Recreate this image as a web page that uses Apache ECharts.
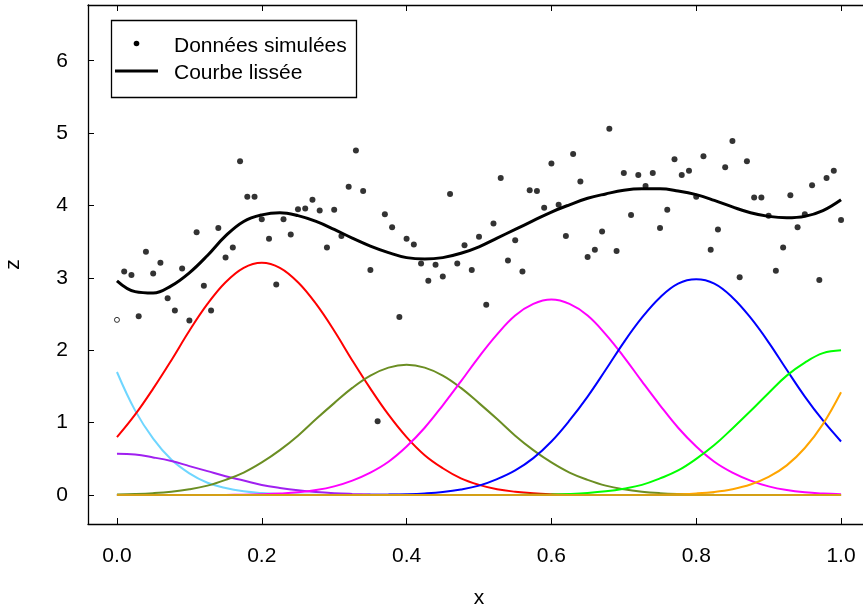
<!DOCTYPE html>
<html>
<head>
<meta charset="utf-8">
<title>Données simulées et courbe lissée</title>
<script src="https://cdn.jsdelivr.net/npm/echarts@6/dist/echarts.min.js"></script>
<style>
  html, body { margin: 0; padding: 0; background: #fff; }
  #chart { width: 863px; height: 607px; }
</style>
</head>
<body>
<div id="chart"></div>
<script>
// points simulés, x = 0, 0.01, ..., 1.00
var pointsZ = [
    2.42, 3.09, 3.04, 2.47, 3.36, 3.06, 3.21, 2.72, 2.55, 3.13,
    2.41, 3.63, 2.89, 2.55, 3.69, 3.28, 3.42, 4.61, 4.12, 4.12,
    3.81, 3.54, 2.91, 3.81, 3.60, 3.95, 3.96, 4.08, 3.93, 3.42,
    3.94, 3.58, 4.26, 4.76, 4.20, 3.11, 1.02, 3.88, 3.70, 2.46,
    3.54, 3.46, 3.20, 2.96, 3.18, 3.02, 4.16, 3.20, 3.45, 3.11,
    3.57, 2.63, 3.75, 4.38, 3.24, 3.52, 3.09, 4.21, 4.20, 3.97,
    4.58, 4.01, 3.58, 4.71, 4.33, 3.29, 3.39, 3.64, 5.06, 3.37,
    4.45, 3.87, 4.42, 4.27, 4.45, 3.69, 3.94, 4.64, 4.42, 4.48,
    4.12, 4.68, 3.39, 3.67, 4.53, 4.89, 3.01, 4.61, 4.11, 4.11,
    3.86, 3.10, 3.42, 4.14, 3.70, 3.88, 4.28, 2.97, 4.38, 4.48,
    3.80
];

// courbes lues en x = 0, 0.025, ..., 1.00 (41 valeurs)
var courbeLissee = [
    2.96, 2.81, 2.79, 2.89, 3.07, 3.31, 3.58, 3.78, 3.87, 3.90,
    3.86, 3.78, 3.67, 3.55, 3.44, 3.35, 3.28, 3.26, 3.28, 3.34,
    3.43, 3.55, 3.67, 3.79, 3.91, 4.01, 4.10, 4.16, 4.21, 4.23,
    4.23, 4.20, 4.15, 4.07, 3.98, 3.90, 3.85, 3.83, 3.85, 3.93,
    4.08
];
var baseCyan = [
    1.70, 1.17, 0.78, 0.49, 0.30, 0.17, 0.097, 0.052, 0.027, 0.013,
    0.006, 0.003, 0, 0, 0, 0, 0, 0, 0, 0,
    0, 0, 0, 0, 0, 0, 0, 0, 0, 0,
    0, 0, 0, 0, 0, 0, 0, 0, 0, 0,
    0
];
var baseViolet = [
    0.57, 0.56, 0.52, 0.47, 0.40, 0.33, 0.26, 0.20, 0.14, 0.098,
    0.065, 0.041, 0.025, 0.015, 0.008, 0.004, 0.002, 0, 0, 0,
    0, 0, 0, 0, 0, 0, 0, 0, 0, 0,
    0, 0, 0, 0, 0, 0, 0, 0, 0, 0,
    0
];
var baseRouge = [
    0.80, 1.11, 1.47, 1.86, 2.27, 2.64, 2.94, 3.14, 3.21, 3.14,
    2.94, 2.64, 2.27, 1.86, 1.47, 1.11, 0.80, 0.55, 0.37, 0.23,
    0.14, 0.08, 0.046, 0.024, 0.012, 0.006, 0.003, 0, 0, 0,
    0, 0, 0, 0, 0, 0, 0, 0, 0, 0,
    0
];
var baseOlive = [
    0.007, 0.014, 0.026, 0.046, 0.079, 0.13, 0.21, 0.31, 0.45, 0.62,
    0.82, 1.05, 1.27, 1.48, 1.65, 1.76, 1.80, 1.76, 1.65, 1.48,
    1.27, 1.05, 0.82, 0.62, 0.45, 0.31, 0.21, 0.13, 0.079, 0.046,
    0.026, 0.014, 0.007, 0.003, 0.002, 0, 0, 0, 0, 0,
    0
];
var baseMagenta = [
    0, 0, 0, 0, 0, 0, 0.002, 0.005, 0.011, 0.021,
    0.038, 0.069, 0.12, 0.20, 0.31, 0.46, 0.67, 0.93, 1.24, 1.57,
    1.91, 2.22, 2.48, 2.64, 2.70, 2.64, 2.48, 2.22, 1.91, 1.57,
    1.24, 0.93, 0.67, 0.46, 0.31, 0.20, 0.12, 0.069, 0.038, 0.021,
    0.011
];
var baseBleu = [
    0, 0, 0, 0, 0, 0, 0, 0, 0, 0,
    0, 0, 0, 0, 0.003, 0.006, 0.012, 0.023, 0.042, 0.076,
    0.13, 0.22, 0.34, 0.51, 0.74, 1.03, 1.36, 1.73, 2.11, 2.45,
    2.73, 2.92, 2.98, 2.92, 2.73, 2.45, 2.11, 1.73, 1.36, 1.03,
    0.74
];
var baseVert = [
    0, 0, 0, 0, 0, 0, 0, 0, 0, 0,
    0, 0, 0, 0, 0, 0, 0, 0, 0, 0,
    0, 0, 0.002, 0.004, 0.008, 0.015, 0.028, 0.051, 0.088, 0.14,
    0.23, 0.34, 0.50, 0.69, 0.92, 1.16, 1.41, 1.65, 1.83, 1.96,
    2.00
];
var baseOrange = [
    0, 0, 0, 0, 0, 0, 0, 0, 0, 0,
    0, 0, 0, 0, 0, 0, 0, 0, 0, 0,
    0, 0, 0, 0, 0, 0, 0, 0, 0, 0.002,
    0.005, 0.011, 0.022, 0.043, 0.081, 0.145, 0.25, 0.41, 0.65, 0.98,
    1.42
];
// fonctions de base à poids nul (tracées à plat sur z = 0)
var baseBrun = [0, 0];
var baseOr = [0, 0];

var xTicks = [0, 0.2, 0.4, 0.6, 0.8, 1.0];
var zTicks = [0, 1, 2, 3, 4, 5, 6];

var police = 'Liberation Sans, Arial, sans-serif';

// paires [x, z] sur une grille régulière de 0 à 1
function enPaires(values) {
    var pas = 1 / (values.length - 1);
    return values.map(function (v, i) {
        return [Math.round(i * pas * 1000) / 1000, v];
    });
}

function baseSeries(nom, values, couleur) {
    return {
        name: nom,
        type: 'line',
        smooth: 0.4,
        showSymbol: false,
        symbol: 'none',
        data: enPaires(values),
        lineStyle: { color: couleur, width: 2 },
        z: 3
    };
}

var points = enPaires(pointsZ);
// premier point dessiné en cercle vide
points[0] = {
    value: points[0],
    symbolSize: 5,
    itemStyle: { color: '#fff', borderColor: '#000', borderWidth: 1 }
};

var chart = echarts.init(document.getElementById('chart'), null, { renderer: 'canvas' });

var axeCommun = {
    type: 'value',
    min: -0.04,
    max: 1.04,
    splitLine: { show: false },
    axisLine: { show: true, onZero: false, lineStyle: { color: '#000', width: 1.3 } },
    axisTick: { show: true, inside: true, length: 6, customValues: xTicks, lineStyle: { color: '#000', width: 1 } }
};

var option = {
    animation: false,
    backgroundColor: '#fff',
    grid: { left: 88, top: 5, width: 782, height: 519, outerBoundsMode: 'none', containLabel: false },
    xAxis: [
        Object.assign({}, axeCommun, {
            position: 'bottom',
            name: 'x',
            nameLocation: 'middle',
            nameGap: 64,
            nameTextStyle: { color: '#000', fontSize: 21, fontFamily: police },
            axisLabel: {
                customValues: xTicks,
                margin: 22,
                color: '#000',
                fontSize: 21,
                fontFamily: police,
                formatter: function (v) { return v.toFixed(1); }
            }
        }),
        Object.assign({}, axeCommun, {
            position: 'top',
            axisLabel: { show: false }
        })
    ],
    yAxis: {
        type: 'value',
        min: -0.4,
        max: 6.77,
        name: 'z',
        nameLocation: 'middle',
        nameRotate: 90,
        nameGap: 64,
        nameTextStyle: { color: '#000', fontSize: 21, fontFamily: police },
        splitLine: { show: false },
        axisLine: { show: true, onZero: false, lineStyle: { color: '#000', width: 1.3 } },
        axisTick: { show: true, inside: true, length: 6, customValues: zTicks, lineStyle: { color: '#000', width: 1 } },
        axisLabel: {
            customValues: zTicks,
            margin: 20,
            color: '#000',
            fontSize: 21,
            fontFamily: police
        }
    },
    series: [
        baseSeries('brun', baseBrun, '#a52a2a'),
        baseSeries('cyan', baseCyan, '#6fd6ff'),
        baseSeries('violet', baseViolet, '#a020f0'),
        baseSeries('rouge', baseRouge, '#ff0000'),
        baseSeries('olive', baseOlive, '#6b8e23'),
        baseSeries('magenta', baseMagenta, '#ff00ff'),
        baseSeries('bleu', baseBleu, '#0000ff'),
        baseSeries('vert', baseVert, '#00ff00'),
        baseSeries('orange', baseOrange, '#ffa500'),
        baseSeries('or', baseOr, '#d4a017'),
        {
            name: 'Données simulées',
            type: 'scatter',
            symbol: 'circle',
            symbolSize: 6,
            itemStyle: { color: '#000' },
            data: points,
            z: 4
        },
        {
            name: 'Courbe lissée',
            type: 'line',
            smooth: 0.4,
            showSymbol: false,
            symbol: 'none',
            data: enPaires(courbeLissee),
            lineStyle: { color: '#000', width: 3 },
            z: 5
        }
    ],
    // légende encadrée, comme dans R
    graphic: [
        {
            type: 'rect',
            shape: { x: 111.5, y: 20.5, width: 245, height: 77 },
            style: { fill: '#fff', stroke: '#000', lineWidth: 1.3 },
            z: 10
        },
        {
            type: 'circle',
            shape: { cx: 136.5, cy: 43.5, r: 2.8 },
            style: { fill: '#000' },
            z: 11
        },
        {
            type: 'line',
            shape: { x1: 115, y1: 71, x2: 158, y2: 71 },
            style: { stroke: '#000', lineWidth: 3 },
            z: 11
        },
        {
            type: 'text',
            x: 174, y: 46,
            style: { text: 'Données simulées', fill: '#000', font: '21px ' + police, verticalAlign: 'middle' },
            z: 11
        },
        {
            type: 'text',
            x: 174, y: 73,
            style: { text: 'Courbe lissée', fill: '#000', font: '21px ' + police, verticalAlign: 'middle' },
            z: 11
        }
    ]
};

option && chart.setOption(option);
</script>
</body>
</html>
